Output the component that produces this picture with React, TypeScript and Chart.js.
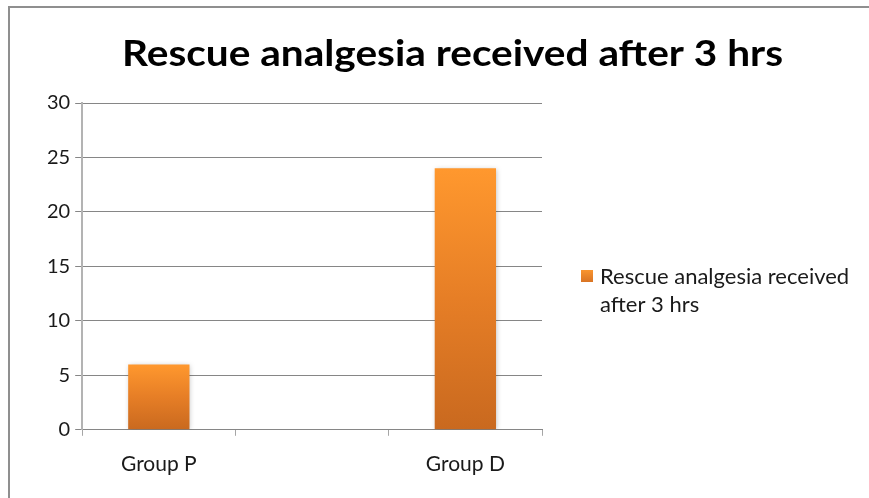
import React, { useEffect, useRef } from "react";
import { Chart, registerables } from "chart.js";

Chart.register(...registerables);

const TITLE = "Rescue analgesia received after 3 hrs";
const CATEGORIES = ["Group P", "", "Group D"];
const SERIES_NAME = "Rescue analgesia received after 3 hrs";
const LEGEND_LINES = ["Rescue analgesia received", "after 3 hrs"];
const VALUES = [6, null, 24];
const Y_MIN = 0;
const Y_MAX = 30;
const Y_STEP = 5;

const FONT = "Lato, 'Open Sans', sans-serif";

const titlePlugin = {
  id: "customTitle",
  afterDraw(chart: any) {
    const ctx = chart.ctx;
    ctx.save();
    ctx.font = `bold 37px ${FONT}`;
    ctx.fillStyle = "#000";
    ctx.textBaseline = "middle";
    ctx.textAlign = "center";
    const w = ctx.measureText(TITLE).width;
    const target = 661;
    const sx = target / w;
    ctx.translate(452.5, 54);
    ctx.scale(sx, 1);
    ctx.fillText(TITLE, 0, 0);
    ctx.restore();
  },
};

const legendPlugin = {
  id: "customLegend",
  afterDraw(chart: any) {
    const ctx = chart.ctx;
    ctx.save();
    const x = 581;
    const y = 270;
    const g = ctx.createLinearGradient(0, y, 0, y + 12);
    g.addColorStop(0, "#F9952F");
    g.addColorStop(1, "#D97424");
    ctx.fillStyle = g;
    ctx.fillRect(x, y, 12, 12);
    ctx.fillStyle = "#1a1a1a";
    ctx.font = `22px ${FONT}`;
    ctx.textBaseline = "middle";
    ctx.textAlign = "left";
    LEGEND_LINES.forEach((line, i) => {
      ctx.fillText(line, 600, 277 + i * 28);
    });
    ctx.restore();
  },
};

const shadowPlugin = {
  id: "barShadow",
  beforeDatasetsDraw(chart: any) {
    const ctx = chart.ctx;
    ctx.save();
    ctx.shadowColor = "rgba(0,0,0,0.25)";
    ctx.shadowBlur = 5;
    ctx.shadowOffsetX = 1;
    ctx.shadowOffsetY = 1;
  },
  afterDatasetsDraw(chart: any) {
    chart.ctx.restore();
  },
};

export default function App() {
  const ref = useRef<HTMLCanvasElement | null>(null);

  useEffect(() => {
    if (!ref.current) return;
    const chart = new Chart(ref.current, {
      type: "bar",
      data: {
        labels: CATEGORIES,
        datasets: [
          {
            label: SERIES_NAME,
            data: VALUES as any,
            backgroundColor: (c: any) => {
              const chart = c.chart;
              const ys = chart.scales?.y;
              if (!ys || !chart.chartArea || c.raw == null) return "#F08A2A";
              const top = ys.getPixelForValue(c.raw);
              const bottom = ys.getPixelForValue(0);
              const g = chart.ctx.createLinearGradient(0, top, 0, bottom);
              g.addColorStop(0, "#FF982E");
              g.addColorStop(0.5, "#E67E26");
              g.addColorStop(1, "#C9691F");
              return g;
            },
            borderWidth: 0,
            categoryPercentage: 1,
            barPercentage: 0.4,
          },
        ],
      },
      options: {
        responsive: false,
        animation: false,
        layout: { padding: { left: 42, right: 327, top: 103, bottom: 5 } },
        plugins: {
          legend: { display: false },
          tooltip: { enabled: false },
          title: { display: false },
        },
        scales: {
          x: {
            offset: true,
            grid: {
              offset: true,
              drawOnChartArea: false,
              drawTicks: true,
              tickLength: 6,
              color: "#a6a6a6",
            },
            border: { display: true, color: "#868686", width: 1 },
            ticks: {
              color: "#1a1a1a",
              font: { family: FONT, size: 21 },
              padding: 16,
              maxRotation: 0,
            },
          },
          y: {
            min: Y_MIN,
            max: Y_MAX,
            ticks: {
              stepSize: Y_STEP,
              color: "#1a1a1a",
              font: { family: FONT, size: 20 },
              padding: 5,
            },
            grid: {
              color: "#868686",
              tickLength: 7,
              lineWidth: 1,
            },
            border: { display: true, color: "#b3b3b3", width: 2 },
          },
        },
      },
      plugins: [titlePlugin, legendPlugin, shadowPlugin],
    });
    return () => chart.destroy();
  }, []);

  return (
    <div style={{ position: "absolute", left: 0, top: 0, width: 869, height: 498, background: "#fff", overflow: "hidden" }}>
      <div
        style={{
          position: "absolute",
          left: 8,
          top: 6,
          width: 900,
          height: 600,
          borderTop: "2px solid #8f8f8f",
          borderLeft: "2px solid #8f8f8f",
          boxSizing: "border-box",
        }}
      />
      <canvas ref={ref} width={869} height={498} style={{ position: "absolute", left: 0, top: 0 }} />
    </div>
  );
}
